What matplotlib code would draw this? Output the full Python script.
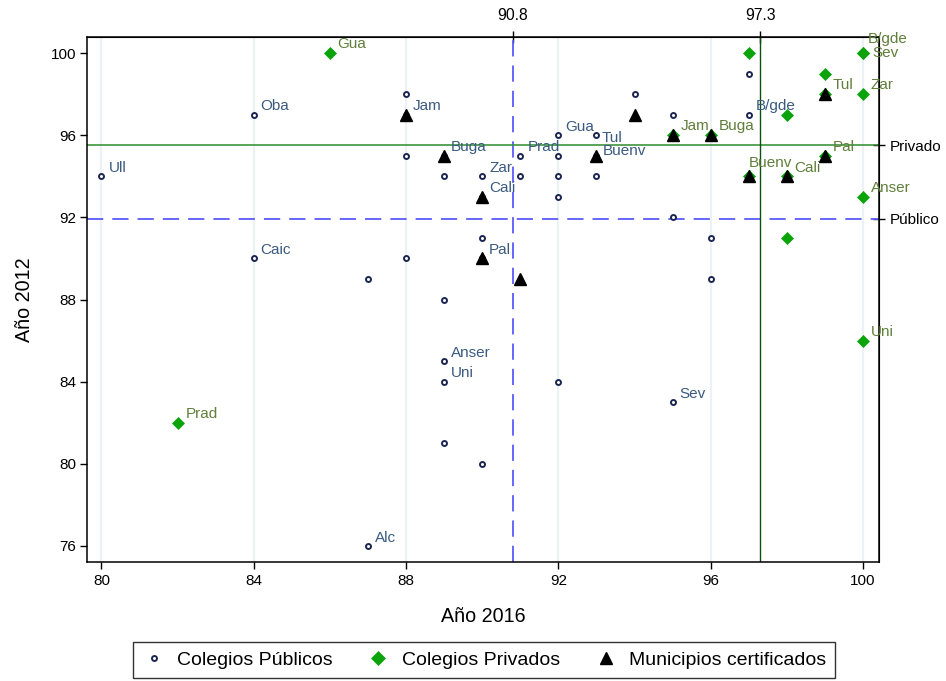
import matplotlib
matplotlib.use("Agg")
import matplotlib.pyplot as plt
from matplotlib.lines import Line2D

plt.rcParams['font.family'] = ['Liberation Sans', 'DejaVu Sans']

# ---------------- data ----------------
pub_x = [80, 84, 84, 87, 88, 89, 89, 89, 90, 90, 90, 91, 92, 93, 93, 95, 97,
         87, 88, 88, 88, 89, 89, 89, 90, 90, 91, 92, 92, 92, 92, 93, 94, 95, 95, 96, 96, 97]
pub_y = [94, 97, 90, 76, 97, 95, 85, 84, 94, 93, 90, 95, 96, 96, 95, 83, 97,
         89, 98, 95, 90, 94, 88, 81, 91, 80, 94, 95, 94, 93, 84, 94, 98, 97, 92, 91, 89, 99]
pub_lab = ["Ull", "Oba", "Caic", "Alc", "Jam", "Buga", "Anser", "Uni", "Zar", "Cali", "Pal",
           "Prad", "Gua", "Tul", "Buenv", "Sev", "B/gde"] + [""] * 21
pub_pos = ["ur"] * 13 + ["r", "ur2"] + ["ur"] * 23

priv_x = [82, 86, 95, 96, 97, 98, 99, 99, 100, 100, 100, 100, 100, 97, 98, 99, 98]
priv_y = [82, 100, 96, 96, 94, 94, 98, 95, 100, 100, 98, 93, 86, 100, 97, 99, 91]
priv_lab = ["Prad", "Gua", "Jam", "Buga", "Buenv", "Cali", "Tul", "Pal", "B/gde", "Sev",
            "Zar", "Anser", "Uni", "", "", "", ""]
priv_pos = ["ur", "ur", "ur", "ur", "u", "ur", "ur", "ur", "uu", "r", "ur", "ur", "ur",
            "ur", "ur", "ur", "ur"]

cert_x = [88, 89, 90, 90, 91, 93, 94, 95, 96, 97, 98, 99, 99]
cert_y = [97, 95, 93, 90, 89, 95, 97, 96, 96, 94, 94, 95, 98]

mean_x_pub = 90.8
mean_x_priv = 97.3
mean_y_priv = 95.52
mean_y_pub = 91.92

x_ticks = [80, 84, 88, 92, 96, 100]
y_ticks = [76, 80, 84, 88, 92, 96, 100]

legend_labels = ["Colegios Públicos", "Colegios Privados", "Municipios certificados"]

# ---------------- styling ----------------
PUB_EDGE = "#1b2653"
PUB_TXT = "#3a5a80"
PRIV_FACE = "#0aa30a"
PRIV_TXT = "#5f7f3a"
BLUE_REF = "#5a5aff"
GREEN_REF = "#2d8a2d"
DKGREEN_REF = "#0d4f0d"

fig = plt.figure(figsize=(9.46, 6.81), dpi=100)
ax = fig.add_axes([87/946, 1-562/681, (879-87)/946, (562-37)/681])

ax.set_xlim(79.62, 100.42)
ax.set_ylim(75.22, 100.78)

for xt in x_ticks:
    ax.axvline(xt, color="#ebf1f4", lw=1.6, zorder=0)

ax.axvline(mean_x_pub, color=BLUE_REF, lw=1.3, dashes=(9, 5), zorder=1)
ax.axhline(mean_y_pub, color=BLUE_REF, lw=1.3, dashes=(9, 5), zorder=1)
ax.axhline(mean_y_priv, color=GREEN_REF, lw=1.1, zorder=1)
ax.axvline(mean_x_priv, color=DKGREEN_REF, lw=1.0, zorder=1)

ax.plot(pub_x, pub_y, ls="none", marker="o", ms=3.6, mfc="white", mec=PUB_EDGE, mew=1.4, zorder=3)
ax.plot(priv_x, priv_y, ls="none", marker="D", ms=6.6, mfc=PRIV_FACE, mec=PRIV_FACE, mew=0.5, zorder=4)
ax.plot(cert_x, cert_y, ls="none", marker="^", ms=8.5, mfc="black", mec="black", zorder=5)

offsets = {"ur": (5, 6), "ur2": (4.5, 3.5), "r": (4, -2), "u": (0, 9.5), "uu": (3.5, 10.5)}
offsets_priv = {"ur": (5.5, 6.3), "r": (6.5, 0), "u": (0, 9.5), "uu": (3.5, 10.3)}
for x, y, t, p in zip(pub_x, pub_y, pub_lab, pub_pos):
    if t:
        ax.annotate(t, (x, y), xytext=offsets[p], textcoords="offset points",
                    ha="left", va="center", fontsize=11, color=PUB_TXT, zorder=6,
                    annotation_clip=False)
for x, y, t, p in zip(priv_x, priv_y, priv_lab, priv_pos):
    if t:
        ax.annotate(t, (x, y), xytext=offsets_priv[p], textcoords="offset points",
                    ha="left", va="center", fontsize=11, color=PRIV_TXT, zorder=6,
                    annotation_clip=False)

ax.set_xticks(x_ticks)
ax.set_yticks(y_ticks)
ax.tick_params(axis="both", direction="out", length=5, width=1, labelsize=11, colors="black")
ax.tick_params(axis="y", pad=3)
for s in ax.spines.values():
    s.set_linewidth(1.1)
    s.set_color("black")

ax.set_xlabel("Año 2016", fontsize=14.2, labelpad=14)
ax.set_ylabel("Año 2012", fontsize=14.2, labelpad=12)

top = ax.secondary_xaxis("top")
top.set_ticks([mean_x_pub, mean_x_priv])
top.set_xticklabels([f"{mean_x_pub:.1f}", f"{mean_x_priv:.1f}"])
top.tick_params(direction="inout", length=8, width=1, labelsize=11.3, pad=6)

right = ax.secondary_yaxis("right")
right.set_ticks([mean_y_priv, mean_y_pub])
right.set_yticklabels(["Privado", "Público"])
right.tick_params(direction="inout", length=8, width=1, labelsize=11, pad=4)

handles = [
    Line2D([], [], ls="none", marker="o", ms=3.6, mfc="white", mec=PUB_EDGE, mew=1.4),
    Line2D([], [], ls="none", marker="D", ms=7.5, mfc=PRIV_FACE, mec=PRIV_FACE, mew=0.5),
    Line2D([], [], ls="none", marker="^", ms=8.5, mfc="black", mec="black"),
]
leg = fig.legend(handles, legend_labels, loc="center", bbox_to_anchor=(484/946, 1-660/681),
                 ncol=3, fontsize=14, frameon=True, fancybox=False, edgecolor="black",
                 handletextpad=0.6, columnspacing=1.75, borderpad=0.45, handlelength=1.2)
leg.get_frame().set_linewidth(1.0)

fig.savefig("out.png", dpi=100)
